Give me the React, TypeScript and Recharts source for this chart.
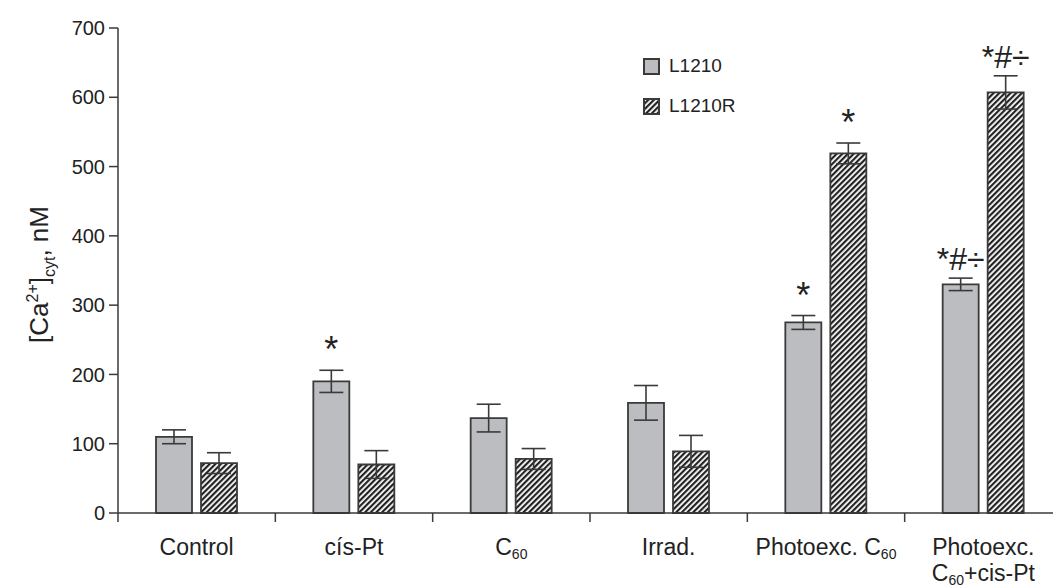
import React from 'react';
import { BarChart, Bar, XAxis, YAxis, ErrorBar, LabelList, Legend } from 'recharts';

// categories as printed under the axis ("|" = line break)
const categories = ['Control', 'cís-Pt', 'C60', 'Irrad.', 'Photoexc. C60', 'Photoexc.|C60+cis-Pt'];
const seriesNames = ['L1210', 'L1210R'];

const l1210 = [110, 190, 137, 159, 275, 330];
const l1210Err = [10, 16, 20, 25, 10, 9];
const l1210R = [72, 70, 78, 89, 519, 607];
const l1210RErr = [15, 20, 15, 23, 15, 24];

const l1210Marks = ['', '*', '', '', '*', '*#÷'];
const l1210RMarks = ['', '', '', '', '*', '*#÷'];

const yTicks = [0, 100, 200, 300, 400, 500, 600, 700];

const FONT = '"Liberation Sans", Arial, Helvetica, sans-serif';
const TEXT = '#222';
const LINE = '#3a3a3a';
const GRAY = '#bcbdc0';

const CHART_W = 1080;
const CHART_H = 580;
const MARGIN = { top: 20, right: 26, left: 30, bottom: 45 };
const Y_AXIS_W = 80;
const X_AXIS_H = 30;
const PLOT_W = CHART_W - MARGIN.left - MARGIN.right - Y_AXIS_W;
const PLOT_H = CHART_H - MARGIN.top - MARGIN.bottom - X_AXIS_H;
const BAND = PLOT_W / categories.length;

const data = categories.map((name, i) => ({
  name,
  l1210: l1210[i],
  l1210Err: l1210Err[i],
  l1210R: l1210R[i],
  l1210RErr: l1210RErr[i],
}));

// text with "C60" written as C + subscript 60
function withSub(text: string, keyBase: string) {
  const parts = text.split('C60');
  const out: React.ReactNode[] = [];
  parts.forEach((p, i) => {
    if (p) out.push(<tspan key={keyBase + 'p' + i} dy={i > 0 ? -4 : 0}>{p}</tspan>);
    if (i < parts.length - 1) {
      out.push(<tspan key={keyBase + 'c' + i} dy={i > 0 && !p ? -4 : 0}>C</tspan>);
      out.push(<tspan key={keyBase + 's' + i} dy={4} fontSize={14}>60</tspan>);
    }
  });
  return out;
}

const XTick = (props: any) => {
  const { x, y, payload, index } = props;
  const lines = String(payload.value).split('|');
  const left = x - BAND / 2;
  return (
    <g>
      <line x1={left} x2={left} y1={y} y2={y + 9} stroke={LINE} strokeWidth={1.5} />
      {index === categories.length - 1 && (
        <line x1={x + BAND / 2} x2={x + BAND / 2} y1={y} y2={y + 9} stroke={LINE} strokeWidth={1.5} />
      )}
      {lines.map((ln, i) => (
        <text key={i} x={x} y={y + 42 + i * 26} textAnchor="middle" fontSize={23} fill={TEXT} fontFamily={FONT}>
          {withSub(ln, 'l' + i)}
        </text>
      ))}
    </g>
  );
};

const makeMarks = (vals: number[], errs: number[], marks: string[]) => (props: any) => {
  const { x, y, width, height, index } = props;
  const m = marks[index];
  if (!m) return null;
  const ppu = Number(height) / vals[index];
  const top = Number(y) - errs[index] * ppu;
  return (
    <text x={Number(x) + Number(width) / 2} y={top - 8} textAnchor="middle" fontSize={m === '*' ? 36 : 32} fill={TEXT} fontFamily={FONT}>
      {m}
    </text>
  );
};

const YLabel = () => {
  const cx = 40;
  const cy = MARGIN.top + PLOT_H / 2 + 4;
  return (
    <text transform={`translate(${cx},${cy}) rotate(-90)`} textAnchor="middle" fontSize={26} fill={TEXT} fontFamily={FONT}>
      [Ca<tspan dy={-10} fontSize={16}>2+</tspan>
      <tspan dy={10}>]</tspan>
      <tspan dy={7} fontSize={16}>cyt</tspan>
      <tspan dy={-7}>, nM</tspan>
    </text>
  );
};

const LegendBox = () => (
  <div style={{ fontFamily: FONT, fontSize: 19, color: TEXT }}>
    {seriesNames.map((n, i) => (
      <div key={n} style={{ display: 'flex', alignItems: 'center', height: 40 }}>
        <svg width={17} height={17}>
          <rect x={1} y={1} width={15} height={15} fill={i ? 'url(#hatch)' : GRAY} stroke={LINE} strokeWidth={2} />
        </svg>
        <span style={{ marginLeft: 9 }}>{n}</span>
      </div>
    ))}
  </div>
);

export default function App() {
  return (
    <div style={{ position: 'absolute', left: 8, top: 8, width: 1045, height: 580, overflow: 'hidden', background: '#fff' }}>
      <BarChart width={CHART_W} height={CHART_H} data={data} margin={MARGIN} barGap={9}>
        <defs>
          <pattern id="hatch" patternUnits="userSpaceOnUse" width={4} height={4} patternTransform="rotate(45)">
            <rect width={4} height={4} fill="#fff" />
            <rect width={2.2} height={4} fill="#222" />
          </pattern>
        </defs>
        <XAxis
          dataKey="name"
          height={X_AXIS_H}
          interval={0}
          tickLine={false}
          tickSize={0}
          tickMargin={0}
          axisLine={{ stroke: LINE, strokeWidth: 1.5 }}
          tick={<XTick />}
        />
        <YAxis
          width={Y_AXIS_W}
          domain={[0, 700]}
          ticks={yTicks}
          interval={0}
          tickSize={9}
          tickMargin={4}
          axisLine={{ stroke: LINE, strokeWidth: 1.5 }}
          tickLine={{ stroke: LINE, strokeWidth: 1.5 }}
          tick={{ fontSize: 20, fill: TEXT, fontFamily: FONT }}
          label={<YLabel />}
        />
        <Legend layout="horizontal" verticalAlign="middle" align="center" content={<LegendBox />}
          wrapperStyle={{ position: 'absolute', left: 635, top: 38, width: 'auto' }} />
        <Bar dataKey="l1210" name={seriesNames[0]} fill={GRAY} stroke={LINE} strokeWidth={1.8} barSize={36} isAnimationActive={false}>
          <ErrorBar dataKey="l1210Err" direction="y" width={12} stroke={LINE} strokeWidth={1.6} />
          <LabelList dataKey="l1210" content={makeMarks(l1210, l1210Err, l1210Marks)} />
        </Bar>
        <Bar dataKey="l1210R" name={seriesNames[1]} fill="url(#hatch)" stroke={LINE} strokeWidth={1.8} barSize={36} isAnimationActive={false}>
          <ErrorBar dataKey="l1210RErr" direction="y" width={12} stroke={LINE} strokeWidth={1.6} />
          <LabelList dataKey="l1210R" content={makeMarks(l1210R, l1210RErr, l1210RMarks)} />
        </Bar>
      </BarChart>
    </div>
  );
}
